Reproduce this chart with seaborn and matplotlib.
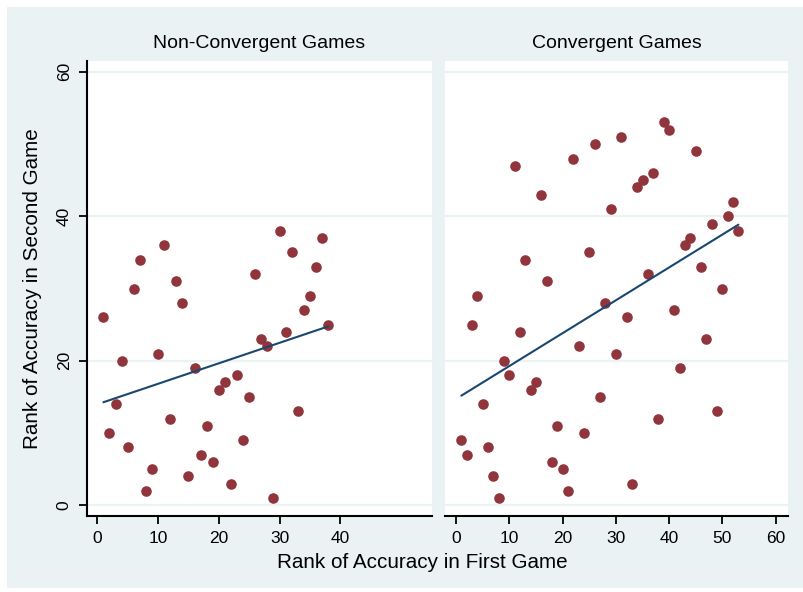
import numpy as np
import pandas as pd
import matplotlib
matplotlib.use("Agg")
import matplotlib.pyplot as plt
from matplotlib.patches import Rectangle
import seaborn as sns

# Ranks of accuracy: first game (x) vs second game (y)
nonconv_first = list(range(1, 39))
nonconv_second = [26, 10, 14, 20, 8, 30, 34, 2, 5, 21, 36, 12, 31, 28, 4, 19, 7, 11, 6,
                  16, 17, 3, 18, 9, 15, 32, 23, 22, 1, 38, 24, 35, 13, 27, 29, 33, 37, 25]

conv_first = list(range(1, 54))
conv_second = [9, 7, 25, 29, 14, 8, 4, 1, 20, 18, 47, 24, 34, 16, 17, 43, 31, 6, 11, 5,
               2, 48, 22, 10, 35, 50, 15, 28, 41, 21, 51, 26, 3, 44, 45, 32, 46, 12, 53,
               52, 27, 19, 36, 37, 49, 33, 23, 39, 13, 30, 40, 42, 38]

panel_titles = ["Non-Convergent Games", "Convergent Games"]
x_ticks = [[0, 10, 20, 30, 40], [0, 10, 20, 30, 40, 50, 60]]
y_ticks = [0, 20, 40, 60]

df = pd.concat([
    pd.DataFrame({"first": nonconv_first, "second": nonconv_second, "game": panel_titles[0]}),
    pd.DataFrame({"first": conv_first, "second": conv_second, "game": panel_titles[1]}),
], ignore_index=True)

sns.set_style("white")
plt.rcParams["font.family"] = ["Liberation Sans", "DejaVu Sans"]
plt.rcParams["text.color"] = "black"
plt.rcParams["xtick.color"] = "black"
plt.rcParams["ytick.color"] = "black"

W, H = 804, 592
fig = plt.figure(figsize=(W / 100, H / 100), dpi=100)
fig.patch.set_facecolor("white")

bg = "#EAF2F3"
maroon = "#90353B"
navy = "#1A476F"

# outer graph region, kept behind the panels
fig.patches.append(Rectangle((7 / W, 4 / H), 1 - 7 / W, (588 - 7) / H,
                             transform=fig.transFigure, facecolor=bg,
                             edgecolor="none", zorder=-10))

def fig_box(x0, x1, y_top, y_bot):
    return [x0 / W, (H - y_bot) / H, (x1 - x0) / W, (y_bot - y_top) / H]

boxes = [fig_box(87, 432, 61, 516), fig_box(445, 788, 61, 516)]
xlims = [(-1.7, 55.1), (-2.06, 62.3)]

for i, name in enumerate(panel_titles):
    ax = fig.add_axes(boxes[i])
    ax.set_facecolor("white")
    sub = df[df["game"] == name]
    for y in y_ticks:
        ax.axhline(y, color=bg, lw=1.6, zorder=0.5)
    sns.scatterplot(data=sub, x="first", y="second", ax=ax, color=maroon,
                    s=58, linewidth=0, zorder=2, legend=False)
    sns.regplot(data=sub, x="first", y="second", ax=ax, scatter=False, ci=None,
                line_kws={"color": navy, "lw": 1.5, "zorder": 3})
    ax.set_xlim(*xlims[i])
    ax.set_ylim(-1.5, 61.5)
    ax.set_xticks(x_ticks[i])
    ax.set_xlabel("")
    ax.set_ylabel("")
    for s in ["top", "right"]:
        ax.spines[s].set_visible(False)
    ax.spines["bottom"].set_color("black")
    ax.spines["bottom"].set_linewidth(1.5)
    ax.tick_params(axis="x", direction="out", length=6, width=1.3, color="black",
                   labelcolor="black", pad=5, labelsize=12.5, bottom=True)
    if i == 0:
        ax.spines["left"].set_color("black")
        ax.spines["left"].set_linewidth(1.5)
        ax.set_yticks(y_ticks)
        ax.tick_params(axis="y", direction="out", length=6, width=1.3, color="black",
                       labelcolor="black", pad=5, labelsize=12.5, left=True)
        for lab in ax.get_yticklabels():
            lab.set_rotation(90)
            lab.set_va("center")
    else:
        ax.spines["left"].set_visible(False)
        ax.set_yticks(y_ticks)
        ax.tick_params(axis="y", left=False, labelleft=False)
    cx = (boxes[i][0] + boxes[i][2] / 2)
    fig.text(cx, (H - 44) / H, name, ha="center", va="center", fontsize=14,
             color="black")

fig.text(422 / W, (H - 563) / H, "Rank of Accuracy in First Game",
         ha="center", va="center", fontsize=14.9, color="black")
fig.text(33 / W, (H - 289) / H, "Rank of Accuracy in Second Game",
         ha="center", va="center", rotation=90, fontsize=14.9, color="black")

fig.savefig("out.png", dpi=100, facecolor=fig.get_facecolor())
